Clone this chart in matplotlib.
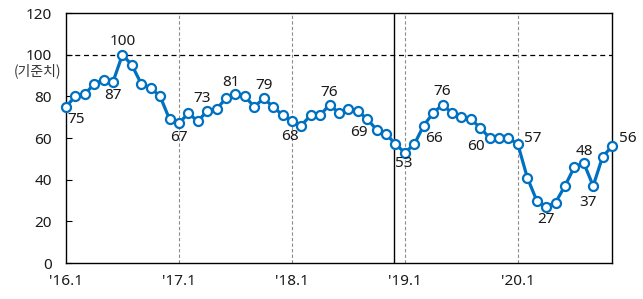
import matplotlib
matplotlib.use('Agg')
import matplotlib.pyplot as plt

plt.rcParams['font.family'] = ['Noto Sans', 'Noto Sans CJK KR', 'DejaVu Sans']

# monthly index, '16.1 .. '20.11
values = [75, 80, 81, 86, 88, 87, 100, 95, 86, 84, 80, 69,
          67, 72, 68, 73, 74, 79, 81, 80, 75, 79, 75, 71,
          68, 66, 71, 71, 76, 72, 74, 73, 69, 64, 62, 57,
          53, 57, 66, 72, 76, 72, 70, 69, 65, 60, 60, 60,
          57, 41, 30, 27, 29, 37, 46, 48, 37, 51, 56]
xtick_pos = [0, 12, 24, 36, 48]
xtick_labels = ["'16.1", "'17.1", "'18.1", "'19.1", "'20.1"]
# (index, offset in pixels) for the data labels
label_idx = [0, 5, 6, 12, 15, 18, 21, 24, 28, 32, 36, 38, 40, 45, 48, 51, 55, 56, 58]
label_off = [(10, -13), (0, -14), (0, 13), (0, -14), (-5, 12), (-4, 12), (0, 13),
             (-2, -15), (0, 12), (-8, -13), (-1, -11), (10, -13), (0, 13),
             (-14, -8), (15, 6), (0, -13), (1, 12), (-5, -17), (16, 8)]

x = list(range(len(values)))

fig = plt.figure(figsize=(6.43, 2.99), dpi=100)
ax = fig.add_axes([0.1026, 0.1204, 0.8492, 0.8361])

for p in xtick_pos[1:]:
    ax.axvline(p, color='#8c8c8c', linestyle=(0, (3, 2)), linewidth=0.8, zorder=1)
ax.axvline(34.85, color='black', linewidth=1.0, zorder=1)
ax.axhline(100, color='black', linestyle=(0, (4, 3)), linewidth=0.9, zorder=1)

ax.plot(x, values, color='#0070C0', linewidth=2.3, marker='o', markersize=6.5,
        markerfacecolor='white', markeredgecolor='#0070C0', markeredgewidth=1.6,
        zorder=3, clip_on=False)

for i, (dx, dy) in zip(label_idx, label_off):
    ax.annotate(str(values[i]), xy=(x[i], values[i]), xytext=(dx, dy),
                textcoords='offset pixels', ha='center', va='center',
                fontsize=11, color='#1a1a1a', zorder=4)

ax.annotate('(기준치)', xy=(0, 100), xycoords=('axes fraction', 'data'),
            xytext=(-28, -16), textcoords='offset pixels', ha='center',
            va='center', fontsize=10, color='#333333', annotation_clip=False,
            family=['Noto Sans CJK KR', 'DejaVu Sans'])

ax.set_xlim(0, 58)
ax.set_ylim(0, 120)
ax.set_yticks(range(0, 121, 20))
ax.set_xticks(xtick_pos)
ax.set_xticklabels(xtick_labels)
ax.tick_params(axis='y', direction='in', length=4, labelsize=11, pad=10,
               labelcolor='#1a1a1a')
ax.tick_params(axis='x', length=0, labelsize=11, pad=8, labelcolor='#1a1a1a')
for s in ax.spines.values():
    s.set_color('black')
    s.set_linewidth(1.0)

fig.savefig('out.png', dpi=100)
